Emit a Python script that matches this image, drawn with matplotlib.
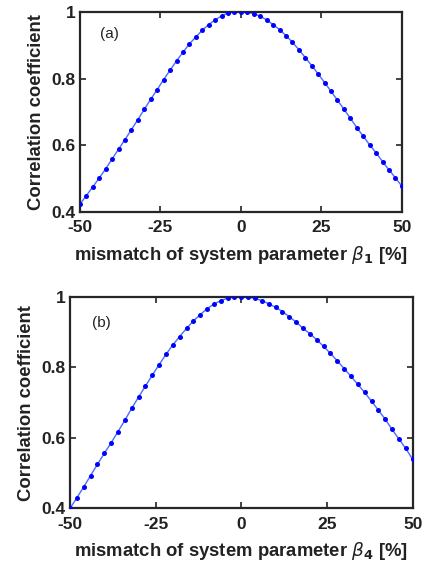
import matplotlib.pyplot as plt
import numpy as np

plt.rcParams['font.family'] = ['Liberation Sans', 'DejaVu Sans']
plt.rcParams['mathtext.fontset'] = 'dejavusans'
plt.rcParams['axes.unicode_minus'] = False

# mismatch in percent, step 2
mismatch = np.arange(-50, 51, 2)

# correlation coefficient, beta_1 mismatch (panel a)
corr_b1 = [0.423, 0.449, 0.475, 0.502, 0.529, 0.559, 0.588, 0.617, 0.647, 0.677,
           0.708, 0.738, 0.767, 0.797, 0.825, 0.853, 0.879, 0.904, 0.925, 0.945,
           0.962, 0.976, 0.988, 0.997, 1.000, 1.000,
           0.999, 0.995, 0.987, 0.976, 0.962, 0.947, 0.929, 0.909, 0.887, 0.863,
           0.839, 0.814, 0.788, 0.762, 0.735, 0.708, 0.681, 0.653, 0.627, 0.601,
           0.577, 0.551, 0.526, 0.502, 0.477]

# correlation coefficient, beta_4 mismatch (panel b)
corr_b4 = [0.400, 0.430, 0.461, 0.493, 0.525, 0.556, 0.586, 0.618, 0.650, 0.684,
           0.716, 0.747, 0.778, 0.808, 0.837, 0.864, 0.888, 0.911, 0.932, 0.950,
           0.967, 0.980, 0.990, 0.997, 1.000, 1.000,
           1.000, 0.996, 0.990, 0.981, 0.971, 0.959, 0.944, 0.929, 0.911, 0.896,
           0.879, 0.860, 0.840, 0.819, 0.797, 0.775, 0.752, 0.729, 0.704, 0.679,
           0.653, 0.624, 0.597, 0.570, 0.539]

xticks = [-50, -25, 0, 25, 50]
yticks = [0.4, 0.6, 0.8, 1.0]
ytick_labels = ['0.4', '0.6', '0.8', '1']

fig = plt.figure(figsize=(4.23, 5.68), dpi=100)
ax1 = fig.add_axes([0.189, 0.627, 0.761, 0.352])
ax2 = fig.add_axes([0.1655, 0.105, 0.810, 0.372])


def style(ax, y, panel, sub, ylab_pad, pos):
    ax.plot(mismatch, y, '-', color='#4a6cff', lw=1.0, zorder=2)
    ax.plot(mismatch, y, 'o', color='#0000ff', ms=3.6, mec='none', zorder=3)
    ax.set_xlim(-50, 50)
    ax.set_ylim(0.4, 1.0)
    ax.set_xticks(xticks)
    ax.set_yticks(yticks)
    ax.set_yticklabels(ytick_labels)
    ax.tick_params(direction='in', length=4, width=1.2, top=True, right=True,
                   labelsize=12.5, colors='#222222', labelcolor='#222222')
    ax.tick_params(axis='x', pad=6)
    ax.tick_params(axis='y', pad=3)
    for lab in ax.get_xticklabels() + ax.get_yticklabels():
        lab.set_fontweight('bold')
    for s in ax.spines.values():
        s.set_linewidth(1.6)
        s.set_color('#262626')
    ax.set_xlabel(r'mismatch of system parameter $\beta_{\mathbf{%s}}$ [%%]' % sub,
                  fontsize=13.3, fontweight='bold', color='#222222', labelpad=6)
    ax.set_ylabel('Correlation coefficient', fontsize=13.3, fontweight='bold',
                  color='#222222', labelpad=ylab_pad)
    ax.text(pos[0], pos[1], panel, transform=ax.transAxes, fontsize=11,
            color='#222222', va='center')


style(ax1, corr_b1, '(a)', '1', 5, (0.062, 0.89))
style(ax2, corr_b4, '(b)', '4', 5, (0.064, 0.878))

plt.savefig('out.png', dpi=100)
